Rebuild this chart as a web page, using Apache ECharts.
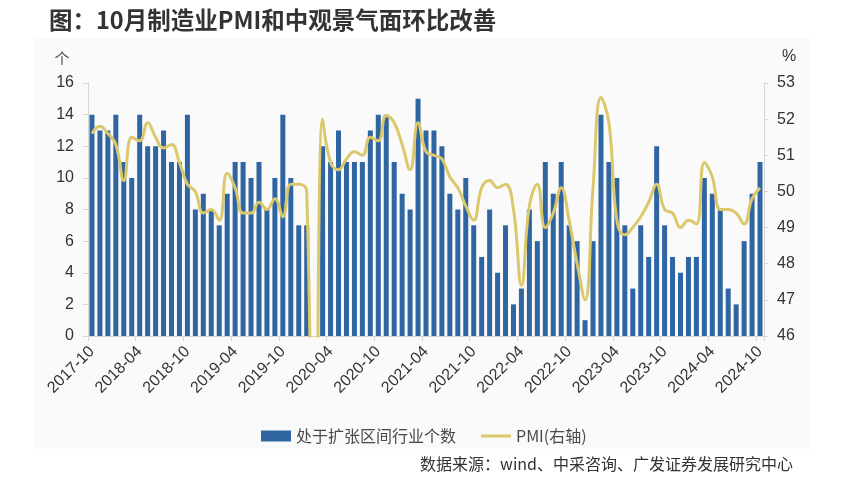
<!DOCTYPE html>
<html>
<head>
<meta charset="utf-8">
<script src="https://cdn.jsdelivr.net/npm/echarts@6/dist/echarts.min.js"></script>
<style>
html,body{margin:0;padding:0;background:#fff;}
#c{width:846px;height:494px;}
</style>
</head>
<body>
<div id="c"></div>
<script>
var categories = [
'2017-10','2017-11','2017-12',
'2018-01','2018-02','2018-03','2018-04','2018-05','2018-06','2018-07','2018-08','2018-09','2018-10','2018-11','2018-12',
'2019-01','2019-02','2019-03','2019-04','2019-05','2019-06','2019-07','2019-08','2019-09','2019-10','2019-11','2019-12',
'2020-01','2020-02','2020-03','2020-04','2020-05','2020-06','2020-07','2020-08','2020-09','2020-10','2020-11','2020-12',
'2021-01','2021-02','2021-03','2021-04','2021-05','2021-06','2021-07','2021-08','2021-09','2021-10','2021-11','2021-12',
'2022-01','2022-02','2022-03','2022-04','2022-05','2022-06','2022-07','2022-08','2022-09','2022-10','2022-11','2022-12',
'2023-01','2023-02','2023-03','2023-04','2023-05','2023-06','2023-07','2023-08','2023-09','2023-10','2023-11','2023-12',
'2024-01','2024-02','2024-03','2024-04','2024-05','2024-06','2024-07','2024-08','2024-09','2024-10'
];

var expandingIndustries = [
14,13,13,
14,11,10,14,12,12,13,11,11,14,8,9,
8,7,9,11,11,10,11,8,10,14,10,7,
7,0,12,11,13,11,11,11,13,14,14,11,
9,8,15,13,13,12,9,8,10,7,5,8,
4,7,2,3,8,6,11,9,11,7,6,1,
6,14,11,10,7,3,7,5,12,7,5,4,
5,5,10,9,8,3,2,6,9,11
];

var pmi = [
51.6,51.8,51.6,
51.3,50.3,51.5,51.4,51.9,51.5,51.2,51.3,50.8,50.2,50.0,49.4,
49.5,49.2,50.5,50.1,49.4,49.4,49.7,49.5,49.8,49.3,50.2,50.2,
50.0,35.7,52.0,50.8,50.6,50.9,51.1,51.0,51.5,51.4,52.1,51.9,
51.3,50.6,51.9,51.1,51.0,50.9,50.4,50.1,49.6,49.2,50.1,50.3,
50.1,50.2,49.5,47.4,49.6,50.2,49.0,49.4,50.1,49.2,48.0,47.0,
50.1,52.6,51.9,49.2,48.8,49.0,49.3,49.7,50.2,49.5,49.4,49.0,
49.2,49.1,50.8,50.4,49.5,49.5,49.4,49.1,49.8,50.1
];

var leftTicks = {min: 0, max: 16, interval: 2};
var rightTicks = {min: 46, max: 53, interval: 1};

var titleText = '图：10月制造业PMI和中观景气面环比改善';
var barName = '处于扩张区间行业个数';
var lineName = 'PMI(右轴)';
var sourceText = '数据来源：wind、中采咨询、广发证券发展研究中心';

var chart = echarts.init(document.getElementById('c'), null, {renderer: 'canvas'});
var axisGray = '#d6d6d6';
var barColor = '#2f66a2';
var lineColor = '#dcc86c';
var labelFont = "'Liberation Sans', Arial, sans-serif";
var cjkFont = "'Noto Sans CJK SC', 'Noto Sans', sans-serif";

chart.setOption({
  animation: false,
  backgroundColor: '#ffffff',
  title: {
    text: titleText,
    left: 44,
    top: 3,
    textStyle: {fontFamily: cjkFont, fontWeight: 'bold', fontSize: 23.5, color: '#333333'}
  },
  graphic: [
    {type: 'rect', z: -100, silent: true, shape: {x: 35, y: 38, width: 775, height: 411}, style: {fill: '#fafafa'}},
    {type: 'text', x: 62, y: 58, style: {text: '个', fontFamily: cjkFont, fontSize: 15, fill: '#555', align: 'center', verticalAlign: 'middle'}},
    {type: 'text', x: 789, y: 57, style: {text: '%', fontFamily: labelFont, fontSize: 16, fill: '#333', align: 'center', verticalAlign: 'middle'}},
    {type: 'text', x: 793, y: 464, style: {text: sourceText, fontFamily: cjkFont, fontSize: 16, fill: '#333', align: 'right', verticalAlign: 'middle'}}
  ],
  legend: {
    left: 256,
    top: 423,
    itemGap: 25,
    itemWidth: 30,
    itemHeight: 11,
    textStyle: {fontFamily: cjkFont, fontSize: 16, color: '#4a4a4a'},
    data: [
      {name: barName, icon: 'rect'},
      {name: lineName, icon: 'path://M0,0 L30,0 L30,3 L0,3 Z', itemStyle: {color: lineColor}}
    ]
  },
  grid: {left: 88, right: 82, top: 83, bottom: 158, containLabel: false},
  xAxis: {
    type: 'category',
    data: categories,
    boundaryGap: true,
    axisLine: {lineStyle: {color: axisGray, width: 1}},
    axisTick: {show: true, interval: 5, length: 5, lineStyle: {color: axisGray}},
    axisLabel: {interval: 5, rotate: 45, margin: 13, fontFamily: labelFont, fontSize: 16, color: '#333', hideOverlap: false},
    splitLine: {show: false}
  },
  yAxis: [
    {
      type: 'value', min: leftTicks.min, max: leftTicks.max, interval: leftTicks.interval,
      axisLine: {show: true, lineStyle: {color: axisGray}},
      axisTick: {show: true, length: 5, lineStyle: {color: axisGray}},
      axisLabel: {margin: 14, fontFamily: labelFont, fontSize: 16, color: '#333'},
      splitLine: {show: false}
    },
    {
      type: 'value', min: rightTicks.min, max: rightTicks.max, interval: rightTicks.interval,
      position: 'right',
      axisLine: {show: true, lineStyle: {color: axisGray}},
      axisTick: {show: true, length: 4, lineStyle: {color: axisGray}},
      axisLabel: {margin: 13, fontFamily: labelFont, fontSize: 16, color: '#333'},
      splitLine: {show: false}
    }
  ],
  series: [
    {
      name: barName,
      type: 'bar',
      yAxisIndex: 0,
      data: expandingIndustries,
      barWidth: 5,
      itemStyle: {color: barColor},
      z: 2
    },
    {
      name: lineName,
      type: 'line',
      yAxisIndex: 1,
      data: pmi,
      smooth: 0.45,
      symbol: 'none',
      clip: true,
      lineStyle: {color: lineColor, width: 3},
      itemStyle: {color: lineColor},
      z: 3
    }
  ]
});
</script>
</body>
</html>
